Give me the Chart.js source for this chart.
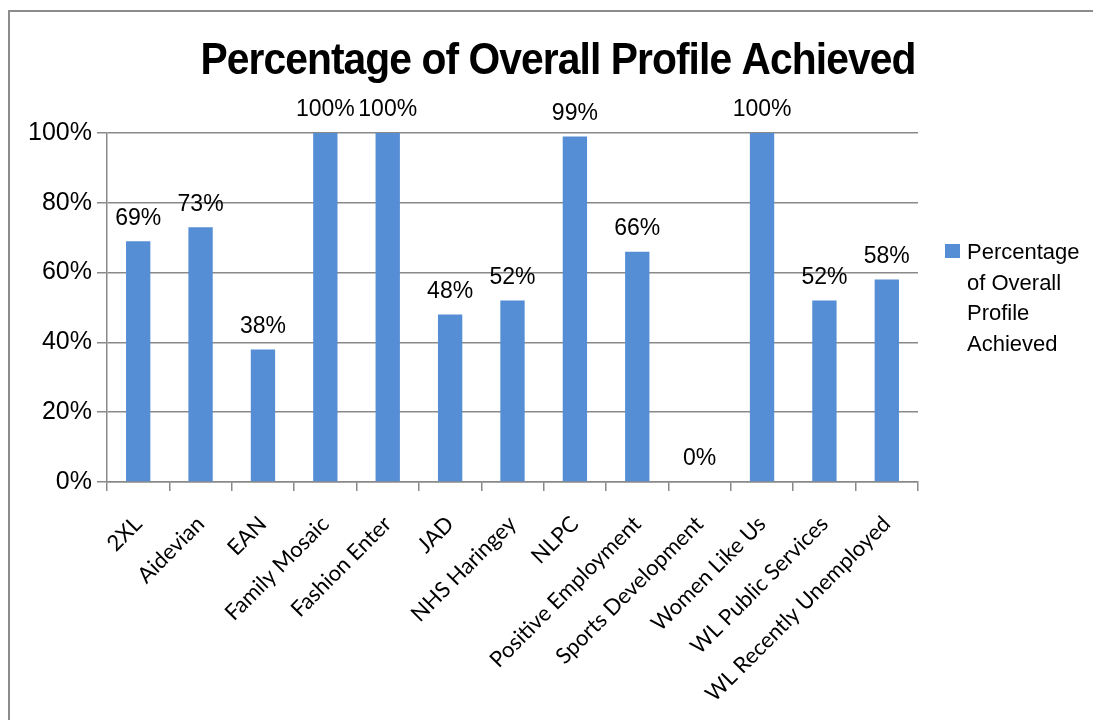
<!DOCTYPE html>
<html>
<head>
<meta charset="utf-8">
<script src="https://cdn.jsdelivr.net/npm/chart.js@4/dist/chart.umd.min.js"></script>
<style>
  html, body { margin: 0; padding: 0; background: #fff; }
  canvas { display: block; }
</style>
</head>
<body>
<canvas id="chart" width="1093" height="720"></canvas>
<script>
// ---- data ----
const chartTitle = 'Percentage of Overall Profile Achieved';
const seriesName = 'Percentage of Overall Profile Achieved';
const categories = [
  '2XL', 'Aidevian', 'EAN', 'Family Mosaic', 'Fashion Enter', 'JAD',
  'NHS Haringey', 'NLPC', 'Positive Employment', 'Sports Development',
  'Women Like Us', 'WL Public Services', 'WL Recently Unemployed'
];
const values = [69, 73, 38, 100, 100, 48, 52, 99, 66, 0, 100, 52, 58];
const yTicks = [0, 20, 40, 60, 80, 100];

const barColor = '#558ed5';
const axisGray = '#898989';

// frame round the chart (only top and left edges are in view)
const framePlugin = {
  id: 'frame',
  beforeDraw(chart) {
    const ctx = chart.ctx;
    ctx.save();
    ctx.strokeStyle = '#8c8c8c';
    ctx.lineWidth = 2;
    ctx.strokeRect(9, 11, 1400, 1400);
    ctx.restore();
  }
};

// bold condensed title
const titlePlugin = {
  id: 'bigTitle',
  afterDraw(chart) {
    const ctx = chart.ctx;
    ctx.save();
    ctx.font = 'bold 44px "Liberation Sans", Arial, sans-serif';
    ctx.letterSpacing = '-1px';
    const w = ctx.measureText(chartTitle).width;
    ctx.translate(558, 74);
    ctx.scale(715 / w, 1);
    ctx.fillStyle = '#000';
    ctx.textAlign = 'center';
    ctx.textBaseline = 'alphabetic';
    ctx.fillText(chartTitle, 0, 0);
    ctx.restore();
  }
};

// value labels above bars
const valueLabels = {
  id: 'valueLabels',
  afterDatasetsDraw(chart) {
    const ctx = chart.ctx;
    const meta = chart.getDatasetMeta(0);
    ctx.save();
    ctx.font = '23px "Liberation Sans", Arial, sans-serif';
    ctx.fillStyle = '#000';
    ctx.textAlign = 'center';
    ctx.textBaseline = 'middle';
    meta.data.forEach((bar, i) => {
      ctx.fillText(values[i] + '%', bar.x, bar.y - 23);
    });
    ctx.restore();
  }
};

// legend on the right, wrapped to a narrow column
const sideLegend = {
  id: 'sideLegend',
  afterDraw(chart) {
    const ctx = chart.ctx;
    ctx.save();
    ctx.font = '22px "Liberation Sans", Arial, sans-serif';
    const words = seriesName.split(' ');
    const lines = [];
    let cur = '';
    words.forEach(w => {
      const t = cur ? cur + ' ' + w : w;
      if (cur && ctx.measureText(t).width > 120) { lines.push(cur); cur = w; }
      else cur = t;
    });
    if (cur) lines.push(cur);

    ctx.fillStyle = barColor;
    ctx.fillRect(945, 244, 15, 14);
    ctx.fillStyle = '#000';
    ctx.textAlign = 'left';
    ctx.textBaseline = 'alphabetic';
    lines.forEach((l, i) => ctx.fillText(l, 967, 259 + i * 30.5));
    ctx.restore();
  }
};

new Chart(document.getElementById('chart'), {
  type: 'bar',
  data: {
    labels: categories,
    datasets: [{
      label: seriesName,
      data: values,
      backgroundColor: barColor,
      categoryPercentage: 1,
      barPercentage: 0.39
    }]
  },
  options: {
    responsive: false,
    animation: false,
    layout: { padding: { left: 8, right: 175, top: 133, bottom: 0 } },
    plugins: {
      legend: { display: false },
      title: { display: false },
      tooltip: { enabled: false }
    },
    scales: {
      x: {
        grid: {
          offset: true,
          drawOnChartArea: false,
          drawTicks: true,
          tickLength: 9,
          color: axisGray,
          lineWidth: 1.5
        },
        border: { color: axisGray, width: 1.5 },
        ticks: {
          autoSkip: false,
          minRotation: 45,
          maxRotation: 45,
          padding: 20,
          color: '#000',
          font: { family: 'Lato, "Open Sans", sans-serif', size: 22 }
        },
        afterFit(scale) { scale.height = 238; }
      },
      y: {
        min: 0,
        max: 100,
        afterBuildTicks(scale) { scale.ticks = yTicks.map(v => ({ value: v })); },
        grid: { color: axisGray, lineWidth: 1.5, tickLength: 10 },
        border: { color: axisGray, width: 1.5 },
        ticks: {
          padding: 5,
          color: '#000',
          font: { family: '"Liberation Sans", Arial, sans-serif', size: 25 },
          callback: v => v + '%'
        },
        afterFit(scale) { scale.width = 99; }
      }
    }
  },
  plugins: [framePlugin, titlePlugin, valueLabels, sideLegend]
});
</script>
</body>
</html>
